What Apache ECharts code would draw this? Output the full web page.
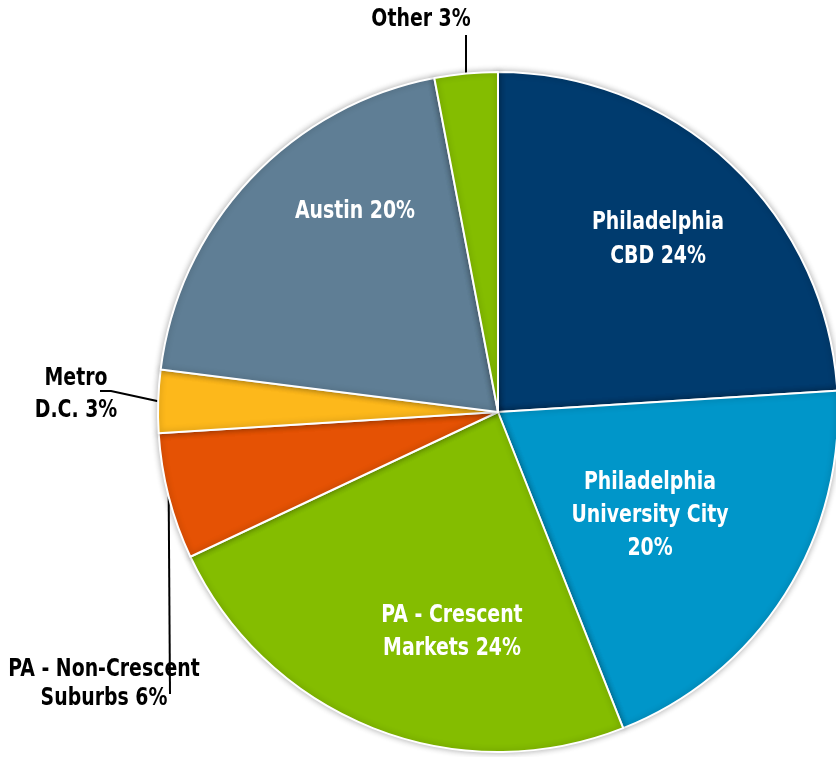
<!DOCTYPE html>
<html>
<head>
<meta charset="utf-8">
<script src="https://cdn.jsdelivr.net/npm/echarts@6/dist/echarts.min.js"></script>
<style>
  html, body { margin: 0; padding: 0; background: #ffffff; }
  #chart { width: 836px; height: 757px; }
</style>
</head>
<body>
<div id="chart"></div>
<script>
// Portfolio share by market (percent of total)
const markets = ['Philadelphia CBD', 'Philadelphia University City', 'PA - Crescent Markets',
                 'PA - Non-Crescent Suburbs', 'Metro D.C.', 'Austin', 'Other'];
const shares = [24, 20, 24, 6, 3, 20, 3];
// Label text as broken over lines; the percentage is appended from `shares`
const labelHeads = ['Philadelphia\nCBD ', 'Philadelphia\nUniversity City\n', 'PA - Crescent\nMarkets ',
                    'PA - Non-Crescent\nSuburbs ', 'Metro\nD.C. ', 'Austin ', 'Other '];
const sliceColors = ['#003b6e', '#0096c9', '#84bd00', '#e55204', '#fdb81b', '#5f7e95', '#84bd00'];

// Pie geometry
const CX = 498, CY = 412, R = 340;

// Where each label block sits, and the elbow points for leader lines of outside labels
const labelSpots = [
  { x: 658, y: 239, lh: 34, inside: true },
  { x: 650, y: 515, lh: 33, inside: true },
  { x: 452, y: 632, lh: 33, inside: true },
  { x: 104, y: 684, lh: 29, inside: false, bend: [[170, 694]] },
  { x: 76,  y: 394, lh: 32, inside: false, bend: [[111, 391], [100, 391]] },
  { x: 355, y: 211, lh: 33, inside: true },
  { x: 421, y: 19,  lh: 33, inside: false, bend: [[466, 35]] }
];

const total = shares.reduce((a, b) => a + b, 0);
function arcMidpoint(i) {
  let before = 0;
  for (let k = 0; k < i; k++) before += shares[k];
  const a = (before + shares[i] / 2) / total * 2 * Math.PI;
  return [CX + R * Math.sin(a), CY - R * Math.cos(a)];
}

const FONT = '"Liberation Sans Narrow", "DejaVu Sans Condensed", "Roboto Condensed", Arial, sans-serif';
const TEXT_NARROW = 0.84;   // horizontal squeeze for a condensed look

const data = markets.map((name, i) => ({
  name: name,
  value: shares[i],
  itemStyle: { color: sliceColors[i] },
  label: {
    position: labelSpots[i].inside ? 'inside' : 'outside',
    color: labelSpots[i].inside ? '#ffffff' : '#000000',
    lineHeight: labelSpots[i].lh
  },
  labelLine: { show: !labelSpots[i].inside }
}));

const chart = echarts.init(document.getElementById('chart'), null, { renderer: 'canvas' });
chart.setOption({
  animation: false,
  backgroundColor: '#ffffff',
  series: [{
    type: 'pie',
    center: [CX, CY],
    radius: [0, R],
    startAngle: 90,
    clockwise: true,
    avoidLabelOverlap: false,
    silent: true,
    itemStyle: {
      borderColor: '#ffffff',
      borderWidth: 2,
      shadowBlur: 6,
      shadowColor: 'rgba(0,0,0,0.3)'
    },
    label: {
      show: true,
      fontFamily: FONT,
      fontWeight: 'bold',
      fontSize: 25,
      align: 'center',
      formatter: p => labelHeads[p.dataIndex] + p.value + '%'
    },
    labelLine: {
      lineStyle: { color: '#000000', width: 2 },
      length: 10,
      length2: 10
    },
    labelLayout: function (p) {
      const spot = labelSpots[p.dataIndex];
      const out = { x: spot.x, y: spot.y, align: 'center', verticalAlign: 'middle' };
      if (spot.bend) {
        out.labelLinePoints = [arcMidpoint(p.dataIndex)].concat(spot.bend);
      }
      return out;
    },
    data: data
  }]
});

// Squeeze each slice label horizontally around its anchor
const zr = chart.getZr();
zr.storage.getRoots().forEach(function (root) {
  const visit = function (el) {
    const label = el.getTextContent && el.getTextContent();
    if (label) {
      label.scaleX = TEXT_NARROW;
      label.markRedraw();
      el.markRedraw();
    }
  };
  visit(root);
  if (root.traverse) root.traverse(visit);
});
zr.refreshImmediately();
</script>
</body>
</html>
